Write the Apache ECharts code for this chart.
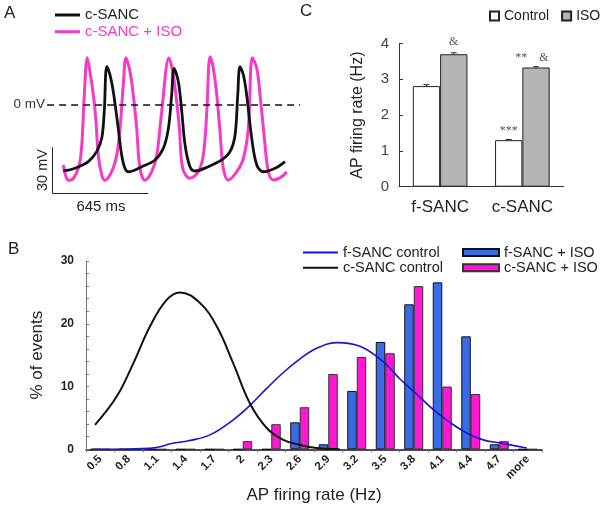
<!DOCTYPE html>
<html><head><meta charset="utf-8">
<script src="https://cdn.jsdelivr.net/npm/echarts@6/dist/echarts.min.js"></script>
<style>html,body{margin:0;padding:0;background:#fff}#c{width:600px;height:511px}</style>
</head><body><div id="c"></div>
<script>
// ---------- Panel A: action-potential traces, [time ms, mV] ----------
const traceBlack = [[74,-43.5],[152,-41.7],[242,-37.4],[298,-30.9],[332,-22.2],[349,-4.8],[366,24.5],[388,19.1],[410,8.2],[443,-15.7],[466,-33.1],[488,-41.7],[511,-44],[601,-40.7],[690,-36.3],[746,-28.7],[780,-15.7],[802,6.1],[818,23.5],[847,14.7],[870,-4.8],[892,-26.5],[925,-40.7],[959,-43.5],[1048,-40.7],[1138,-36.3],[1194,-30.9],[1228,-20],[1246,6.1],[1261,24.5],[1284,19.1],[1306,6.1],[1340,-22.2],[1374,-39.6],[1418,-44],[1497,-41.7],[1564,-37.4]];
const tracePink = [[74,-39.6],[97,-48.5],[119,-49.6],[175,-41.7],[198,-26.5],[215,6.1],[235,30.4],[253,21.3],[276,6.1],[292,-9.1],[309,-33],[332,-46],[354,-49.6],[399,-44],[433,-33],[455,-15.7],[477,12.6],[495,30.4],[522,21.3],[544,6.1],[567,-15.7],[589,-41.7],[623,-49.6],[668,-44],[702,-33],[735,-4.8],[784,30.4],[809,21.3],[831,6.1],[854,-15.7],[876,-41.7],[925,-48.3],[981,-44],[1015,-33],[1038,-4.8],[1060,31.1],[1082,23.5],[1105,6.1],[1127,-17.9],[1149,-41.7],[1183,-49.4],[1239,-44],[1284,-35.2],[1317,-15.7],[1344,30.4],[1374,23.5],[1396,6.1],[1425,-22.2],[1452,-44],[1485,-49.4],[1542,-47.2],[1575,-44]];
const scaleBarMv = 30, scaleBarMs = 645;

// ---------- Panel B: histogram ----------
const rateLabels = ['0.5','0.8','1.1','1.4','1.7','2','2.3','2.6','2.9','3.2','3.5','3.8','4.1','4.4','4.7','more'];
const fIsoPct = [0,0,0,0,0,0,0,4.3,0.8,9.3,17.1,23.1,26.6,18.0,0.8,0];
const cIsoPct = [0,0,0,0,0,1.3,4.0,6.7,12.0,14.7,15.3,26.0,10.0,8.8,1.3,0];
const fCtrlFit = [[0.42,0],[0.81,0.05],[1.02,0.15],[1.13,0.4],[1.23,0.85],[1.44,1.4],[1.655,2.3],[1.9,4.7],[2.076,7.0],[2.252,9.7],[2.424,12.2],[2.603,14.4],[2.778,16.1],[3.0,17.0],[3.234,16.4],[3.476,14.0],[3.655,11.2],[3.83,8.8],[4.0,6.4],[4.18,4.3],[4.357,2.6],[4.53,1.5],[4.71,1.0],[4.99,0.2]];
const cCtrlFit = [[0.445,3.9],[0.673,8.4],[0.848,13.7],[1.024,19.6],[1.199,23.8],[1.339,25.0],[1.55,23.3],[1.726,19.6],[1.9,13.7],[2.076,7.3],[2.252,3.4],[2.427,1.5],[2.603,0.7],[2.78,0.2],[3.02,0]];

// ---------- Panel C: mean firing rate ----------
const cellTypes = ['f-SANC','c-SANC'];
const controlHz = [2.81,1.30];
const isoHz = [3.70,3.33];
const controlErr = [0.04,0.02];
const isoErr = [0.04,0.02];
const controlMarks = ['','***'];
const isoMarks = ['&','**    &'];

const FONT = 'Liberation Sans, Arial, sans-serif';
const PINK = '#f53ac8';
const chart = echarts.init(document.getElementById('c'), null, {renderer:'canvas'});

const errData = [];
cellTypes.forEach((c,i)=>{ errData.push([i,controlHz[i],controlErr[i],-1]); errData.push([i,isoHz[i],isoErr[i],1]); });

chart.setOption({
  animation:false,
  textStyle:{fontFamily:FONT},
  grid:[
    {left:47.1, top:43, width:253, height:150.2},
    {left:86, top:261, width:456, height:188.3},
    {left:399, top:43.5, width:164.5, height:143.2}
  ],
  xAxis:[
    {gridIndex:0, type:'value', min:-35, max:1665, show:false},
    {gridIndex:1, type:'category', data:rateLabels, boundaryGap:true,
      axisLine:{lineStyle:{color:'#111', width:1.5}},
      axisTick:{show:true, length:3, lineStyle:{color:'#777'}},
      axisLabel:{interval:0, rotate:45, fontSize:11.5, fontWeight:'bold', color:'#222', margin:8},
      name:'AP firing rate (Hz)', nameLocation:'middle', nameGap:38,
      nameTextStyle:{fontSize:17, color:'#222'}},
    {gridIndex:1, type:'value', min:0.35, max:5.15, show:false},
    {gridIndex:2, type:'category', data:cellTypes,
      axisLine:{lineStyle:{color:'#333', width:1}},
      axisTick:{show:false},
      axisLabel:{fontSize:17, color:'#222', margin:12}}
  ],
  yAxis:[
    {gridIndex:0, type:'value', min:-58, max:40, show:false},
    {gridIndex:1, type:'value', min:0, max:30, interval:2,
      splitLine:{show:false},
      axisLine:{show:true, lineStyle:{color:'#777'}},
      axisTick:{show:true, inside:true, length:3, lineStyle:{color:'#777'}},
      axisLabel:{fontSize:12, fontWeight:'bold', color:'#222', margin:12,
        formatter:v=> (v%10===0 ? String(v) : '')},
      name:'% of events', nameLocation:'middle', nameGap:40,
      nameTextStyle:{fontSize:17, color:'#222'}},
    {gridIndex:2, type:'value', min:0, max:4, interval:1,
      splitLine:{show:false},
      axisLine:{show:true, lineStyle:{color:'#333'}},
      axisTick:{show:true, inside:true, length:4, lineStyle:{color:'#333'}},
      axisLabel:{fontSize:15, color:'#444', margin:10},
      name:'AP firing rate (Hz)', nameLocation:'middle', nameGap:33,
      nameTextStyle:{fontSize:16, color:'#222'}}
  ],
  legend:[
    {data:[{name:'A·c-SANC', textStyle:{color:'#222'}},{name:'A·c-SANC + ISO', textStyle:{color:PINK}}],
      left:55, top:7.5, padding:0, orient:'vertical', itemWidth:25, itemHeight:3, itemGap:1.7, icon:'rect',
      selectedMode:false, formatter:n=>n.replace('A·',''), textStyle:{fontSize:15, lineHeight:15}},
    {data:['f-SANC control','c-SANC control'], left:303, top:245, padding:0, orient:'vertical',
      itemWidth:35, itemHeight:2, itemGap:0.3, icon:'rect', selectedMode:false,
      textStyle:{fontSize:14.5, color:'#222', lineHeight:14}},
    {data:['f-SANC + ISO','c-SANC + ISO'], left:462, top:245, padding:0, orient:'vertical',
      itemWidth:36, itemHeight:7, itemGap:0.3, icon:'rect', selectedMode:false,
      textStyle:{fontSize:14.5, color:'#222', lineHeight:14}},
    {data:['Control','ISO'], left:489, top:9, width:160, padding:0, orient:'horizontal', itemWidth:9, itemHeight:9,
      itemGap:12, icon:'rect', selectedMode:false, textStyle:{fontSize:14, color:'#222'}}
  ],
  series:[
    {name:'A·c-SANC', type:'line', xAxisIndex:0, yAxisIndex:0, data:traceBlack,
      smooth:0.35, showSymbol:false, color:'#111', lineStyle:{width:2.8, color:'#111'},
      markLine:{silent:true, symbol:'none', animation:false,
        data:[
          [{coord:[-35,0], lineStyle:{type:[7,5], color:'#111', width:1.5},
             label:{show:true, position:'start', formatter:'0 mV', fontSize:13.5, color:'#333', distance:2}},
           {coord:[1665,0]}],
          [{coord:[0,-58], lineStyle:{type:'solid', color:'#222', width:1}, label:{show:false}},
           {coord:[0,-58+scaleBarMv]}],
          [{coord:[0,-58], lineStyle:{type:'solid', color:'#222', width:1}, label:{show:false}},
           {coord:[scaleBarMs,-58]}]
        ]}},
    {name:'A·c-SANC + ISO', type:'line', xAxisIndex:0, yAxisIndex:0, data:tracePink,
      smooth:0.35, showSymbol:false, color:PINK, lineStyle:{width:3, color:PINK}, z:1},
    {name:'f-SANC + ISO', type:'bar', xAxisIndex:1, yAxisIndex:1, data:fIsoPct,
      barWidth:9.5, barGap:'0%', itemStyle:{color:'#3a6be6', borderColor:'#111', borderWidth:1}},
    {name:'c-SANC + ISO', type:'bar', xAxisIndex:1, yAxisIndex:1, data:cIsoPct,
      barWidth:9.5, barGap:'0%', itemStyle:{color:'#ff17d4', borderColor:'#333', borderWidth:1}},
    {name:'f-SANC control', type:'line', xAxisIndex:2, yAxisIndex:1, data:fCtrlFit,
      smooth:0.4, showSymbol:false, color:'#1414d2', lineStyle:{width:1.6, color:'#1414d2'}, z:3},
    {name:'c-SANC control', type:'line', xAxisIndex:2, yAxisIndex:1, data:cCtrlFit,
      smooth:0.4, showSymbol:false, color:'#111', lineStyle:{width:2, color:'#111'}, z:3},
    {name:'Control', type:'bar', xAxisIndex:3, yAxisIndex:2,
      data:controlHz.map((v,i)=>({value:v, label:{show:!!controlMarks[i], formatter:controlMarks[i], distance:3}})),
      barGap:'0%', barCategoryGap:'33.6%',
      itemStyle:{color:'#ffffff', borderColor:'#222', borderWidth:1},
      label:{position:'top', fontFamily:'Liberation Serif, Times New Roman, serif', fontSize:12, color:'#555'}},
    {name:'ISO', type:'bar', xAxisIndex:3, yAxisIndex:2,
      data:isoHz.map((v,i)=>({value:v, label:{show:!!isoMarks[i], formatter:isoMarks[i], distance:i===0?6:4, offset:[i===0?0:-4,0]}})),
      barGap:'0%', barCategoryGap:'33.6%',
      itemStyle:{color:'#b5b5b5', borderColor:'#222', borderWidth:1},
      label:{position:'top', fontFamily:'Liberation Serif, Times New Roman, serif', fontSize:12, color:'#555'}},
    {type:'custom', xAxisIndex:3, yAxisIndex:2, data:errData, z:5, silent:true,
      renderItem:(params, api)=>{
        const band = api.size([1,0])[0];
        const off = api.value(3) * band*(1-0.336)/4;
        const top = api.coord([api.value(0), api.value(1)+api.value(2)]);
        const mid = api.coord([api.value(0), api.value(1)]);
        const x = top[0] + off;
        return {type:'group', children:[
          {type:'line', shape:{x1:x, y1:mid[1], x2:x, y2:top[1]}, style:{stroke:'#222', lineWidth:1}},
          {type:'line', shape:{x1:x-3, y1:top[1], x2:x+3, y2:top[1]}, style:{stroke:'#222', lineWidth:1}}
        ]};
      }}
  ],
  graphic:[
    {type:'text', left:4, top:5, style:{text:'A', fontSize:17, fill:'#222', fontFamily:FONT}},
    {type:'text', left:8, top:241, style:{text:'B', fontSize:17, fill:'#222', fontFamily:FONT}},
    {type:'text', left:300, top:3, style:{text:'C', fontSize:17, fill:'#222', fontFamily:FONT}},
    {type:'text', x:43, y:170, rotation:Math.PI/2, style:{text:'30 mV', fontSize:14.5, fill:'#222', fontFamily:FONT, textAlign:'center', textVerticalAlign:'middle'}},
    {type:'text', x:101, y:207, style:{text:'645 ms', fontSize:15, fill:'#222', fontFamily:FONT, textAlign:'center', textVerticalAlign:'middle'}}
  ]
});
</script></body></html>
